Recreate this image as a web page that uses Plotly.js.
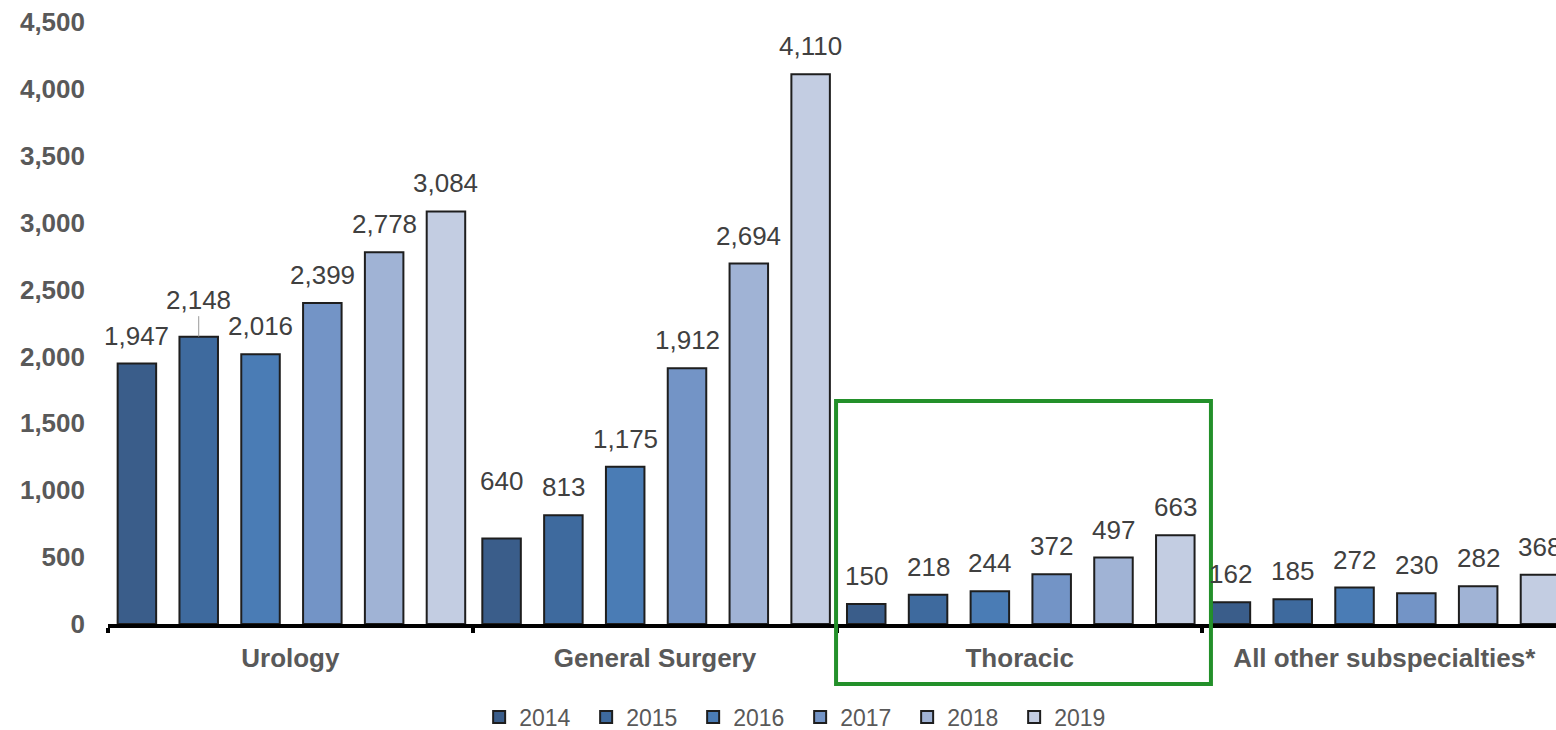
<!DOCTYPE html>
<html>
<head>
<meta charset="utf-8">
<script src="https://cdn.plot.ly/plotly-3.0.1.min.js"></script>
<style>
  html, body { margin: 0; padding: 0; background: #fff; }
  #chart { width: 1556px; height: 730px; }
</style>
</head>
<body>
<div id="chart"></div>
<script>
const categories = ['Urology', 'General Surgery', 'Thoracic', 'All other subspecialties*'];
const years = ['2014', '2015', '2016', '2017', '2018', '2019'];
const v2014 = [1947, 640, 150, 162];
const v2015 = [2148, 813, 218, 185];
const v2016 = [2016, 1175, 244, 272];
const v2017 = [2399, 1912, 372, 230];
const v2018 = [2778, 2694, 497, 282];
const v2019 = [3084, 4110, 663, 368];
const yTicks = [0, 500, 1000, 1500, 2000, 2500, 3000, 3500, 4000, 4500];

const series = [v2014, v2015, v2016, v2017, v2018, v2019];
const colors = ['#3a5d8a', '#3e6a9e', '#4a7cb5', '#7394c6', '#a0b3d5', '#c3cde2'];

const pitch = 0.1695;
const barW = 0.1056;
const shift = 0.003;

const traces = [];
const annotations = [];
series.forEach((vals, i) => {
  const c = (i - 2.5) * pitch + shift;
  traces.push({
    type: 'bar',
    name: years[i],
    x: categories,
    y: vals,
    width: barW,
    offset: c - barW / 2,
    marker: { color: colors[i], line: { color: '#1e1e1e', width: 2 } },
    hoverinfo: 'x+y+name'
  });
  vals.forEach((v, j) => {
    const ann = {
      x: j + c, y: v, xref: 'x', yref: 'y',
      text: v.toLocaleString('en-US'),
      showarrow: false,
      yshift: 28,
      font: { family: 'Liberation Sans, Arial, sans-serif', size: 26, color: '#404040' }
    };
    if (j === 0 && i === 1) {
      ann.showarrow = true; ann.ax = 0; ann.ay = -37; ann.yshift = 0;
      ann.arrowhead = 0; ann.arrowwidth = 1; ann.arrowcolor = '#9a9a9a'; ann.standoff = 0;
    }
    if (j === 1 && i === 0) ann.yshift = 57;
    annotations.push(ann);
  });
});

const layout = {
  width: 1556, height: 730,
  margin: { l: 108, r: 0, t: 22, b: 106, autoexpand: false },
  paper_bgcolor: '#fff', plot_bgcolor: '#fff',
  barmode: 'overlay',
  showlegend: true,
  legend: {
    orientation: 'h', x: 0.478, xanchor: 'center', y: -0.1545, yanchor: 'middle',
    font: { family: 'Liberation Sans, Arial, sans-serif', size: 23, color: '#595959' },
    entrywidth: 62, entrywidthmode: 'pixels', traceorder: 'normal', itemgap: 5
  },
  xaxis: {
    type: 'category',
    range: [-0.5, 3.4707],
    showline: true, linecolor: '#000', linewidth: 4,
    ticks: 'outside', tickson: 'boundaries', ticklen: 5, tickwidth: 4, tickcolor: '#000',
    showgrid: false, zeroline: false,
    ticklabelstandoff: 8,
    tickfont: { family: 'Liberation Sans, Arial, sans-serif', size: 26, color: '#595959', weight: 'bold' }
  },
  yaxis: {
    range: [0, 4500],
    tickvals: yTicks,
    ticktext: yTicks.map(v => v.toLocaleString('en-US')),
    showgrid: false, zeroline: false, showline: false,
    ticks: '',
    ticklabelstandoff: 22,
    tickfont: { family: 'Liberation Sans, Arial, sans-serif', size: 26, color: '#595959', weight: 'bold' }
  },
  annotations: annotations,
  shapes: [{
    type: 'rect', xref: 'paper', yref: 'paper',
    x0: 0.5028, x1: 0.7617, y0: -0.0997, y1: 0.3704,
    line: { color: '#23902a', width: 4 }, fillcolor: 'rgba(0,0,0,0)'
  }]
};

Plotly.newPlot('chart', traces, layout, { displayModeBar: false, responsive: false });
</script>
</body>
</html>
